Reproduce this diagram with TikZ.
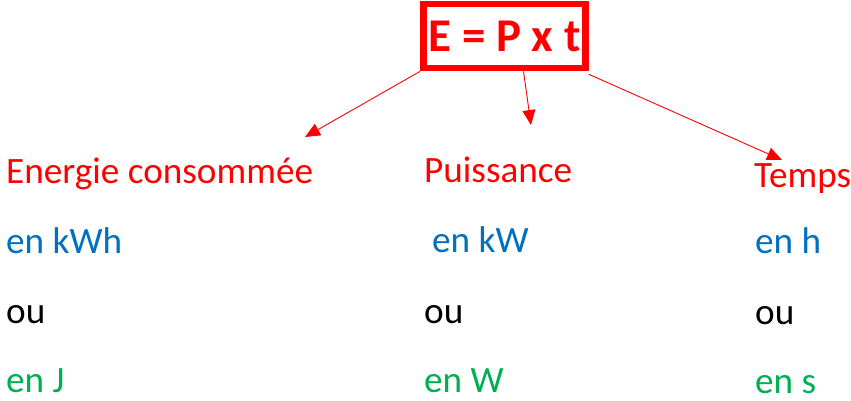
\documentclass[tikz,border=0pt]{standalone}
\usepackage{fontspec}
\setmainfont{Carlito}
\usetikzlibrary{arrows.meta}
\definecolor{rouge}{HTML}{FF0000}
\definecolor{bleu}{HTML}{0070C0}
\definecolor{vert}{HTML}{00B050}
\tikzset{
  lbl/.style={anchor=base west,inner sep=0pt,font=\fontsize{37.2}{42}\selectfont},
  fleche/.style={draw=rouge,line width=0.9pt,-{Triangle[length=15pt,width=13pt]}}
}

\begin{document}
\begin{tikzpicture}[x=1pt,y=-1pt]
\useasboundingbox (0,0) rectangle (851,401);
% formule
\node[draw=rouge,line width=6.6pt,minimum width=162pt,minimum height=64pt,inner sep=0pt,
  text height=32pt,text depth=0pt,text=rouge,font=\fontsize{47}{52}\bfseries] (formule) at (504.5,36) {E = P x t};
% colonne energie
\node[lbl,text=rouge] (energie) at (6,183) {Energie consommée};
\node[lbl,text=bleu] (kwh) at (6,253) {en kWh};
\node[lbl] (ou1) at (6,323) {ou};
\node[lbl,text=vert] (joule) at (6,392) {en J};
% colonne puissance
\node[lbl,text=rouge] (puissance) at (424,182) {Puissance};
\node[lbl,text=bleu] (kw) at (432,252) {en kW};
\node[lbl] (ou2) at (424,323) {ou};
\node[lbl,text=vert] (watt) at (424,392) {en W};
% colonne temps
\node[lbl,text=rouge] (temps) at (754,187) {Temps};
\node[lbl,text=bleu] (heure) at (755,253) {en h};
\node[lbl] (ou3) at (755,324) {ou};
\node[lbl,text=vert] (seconde) at (755,393) {en s};
% fleches
\coordinate (pE) at (305,137);
\coordinate (pP) at (531,125);
\coordinate (pT) at (782,160);
\draw[fleche] (formule.south west) -- (pE);
\draw[fleche] ([xshift=19pt]formule.south) -- (pP);
\draw[fleche] ([yshift=-3pt]formule.south east) -- (pT);
\end{tikzpicture}
\end{document}
